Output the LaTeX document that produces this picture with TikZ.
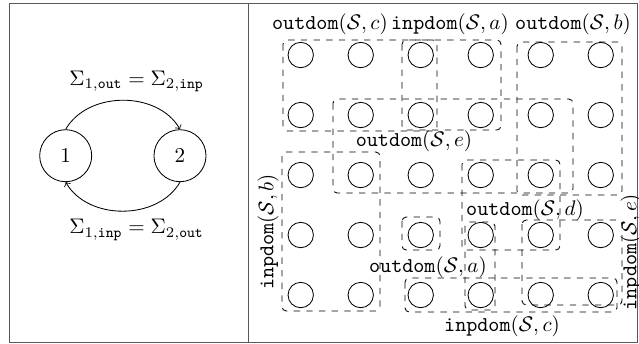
\documentclass[tikz,border=0pt]{standalone}
\usepackage{amsmath, amssymb}
\usetikzlibrary{arrows.meta, positioning, calc}

\begin{document}
\begin{tikzpicture}[>=to,
    subsys/.style={circle, draw, minimum size=0.867cm, inner sep=0pt},
    gnode/.style={circle, draw, minimum size=0.423cm, inner sep=0pt},
    dombox/.style={dashed, rounded corners=2pt},
    domlabel/.style={inner sep=1pt}]

    \useasboundingbox (0,0) rectangle (10.65,-5.717);

    % -------------------------------------------------------------
    % FRAME
    % -------------------------------------------------------------
    \draw[gray!70!black] (0.15,-0.05) rectangle (10.617,-5.70);
    \draw[gray!70!black] (4.133,-0.05) -- (4.133,-5.70);

    % -------------------------------------------------------------
    % LEFT SIDE: TWO COUPLED SUBSYSTEMS
    % -------------------------------------------------------------
    \node[subsys] (sub1) at (1.095,-2.595) {$1$};
    \node[subsys] (sub2) at (3.0,-2.595) {$2$};

    \draw[->] (sub1.north) to[out=60, in=120]
        node[pos=0.6, above=1pt] {$\Sigma_{1,\texttt{out}} = \Sigma_{2,\texttt{inp}}$} (sub2.north);
    \draw[->] (sub2.south) to[out=-120, in=-60]
        node[pos=0.4, below=1pt] {$\Sigma_{1,\texttt{inp}} = \Sigma_{2,\texttt{out}}$} (sub1.south);

    % -------------------------------------------------------------
    % RIGHT SIDE: GRID OF NODES AND DOMAINS
    % -------------------------------------------------------------
    \foreach \i in {1,...,6}
        \foreach \j in {1,...,5}
            \node[gnode] (g-\i-\j) at ({4.012+\i}, {0.083-\j}) {};

    % Domains
    \draw[dombox] (4.717,-0.667) rectangle (7.283,-2.183);   % outdom c
    \draw[dombox] (6.7,-0.667) rectangle (8.35,-2.167);      % inpdom a
    \draw[dombox] (8.617,-0.7) rectangle (10.367,-3.25);     % outdom b
    \draw[dombox] (5.55,-1.65) rectangle (9.55,-3.217);      % outdom e
    \draw[dombox] (4.7,-2.533) rectangle (6.333,-5.183);     % inpdom b
    \draw[dombox] (7.7,-2.667) rectangle (9.333,-4.167);     % outdom d
    \draw[dombox] (6.7,-3.617) rectangle (7.333,-4.167);     % outdom a
    \draw[dombox] (7.75,-3.7) rectangle (8.25,-5.167);
    \draw[dombox] (8.7,-3.667) rectangle (10.367,-5.083);    % inpdom e
    \draw[dombox] (6.75,-4.633) rectangle (10.283,-5.2);     % inpdom c

    % Labels for the domains
    \node[domlabel] (l-oc) at (5.5,-0.4) {$\texttt{outdom}(\mathcal{S},c)$};
    \node[domlabel] (l-ia) at (7.5,-0.4) {$\texttt{inpdom}(\mathcal{S},a)$};
    \node[domlabel] (l-ob) at (9.55,-0.4) {$\texttt{outdom}(\mathcal{S},b)$};
    \node[domlabel] (l-oe) at (6.9,-2.35) {$\texttt{outdom}(\mathcal{S},e)$};
    \node[domlabel, rotate=90] (l-ib) at (4.467,-3.867) {$\texttt{inpdom}(\mathcal{S},b)$};
    \node[domlabel] (l-od) at (8.75,-3.5) {$\texttt{outdom}(\mathcal{S},d)$};
    \node[domlabel] (l-oa) at (7.133,-4.45) {$\texttt{outdom}(\mathcal{S},a)$};
    \node[domlabel] (l-ic) at (8.367,-5.433) {$\texttt{inpdom}(\mathcal{S},c)$};
    \node[domlabel, rotate=90] (l-ie) at (10.52,-4.2) {$\texttt{inpdom}(\mathcal{S},e)$};

\end{tikzpicture}
\end{document}
